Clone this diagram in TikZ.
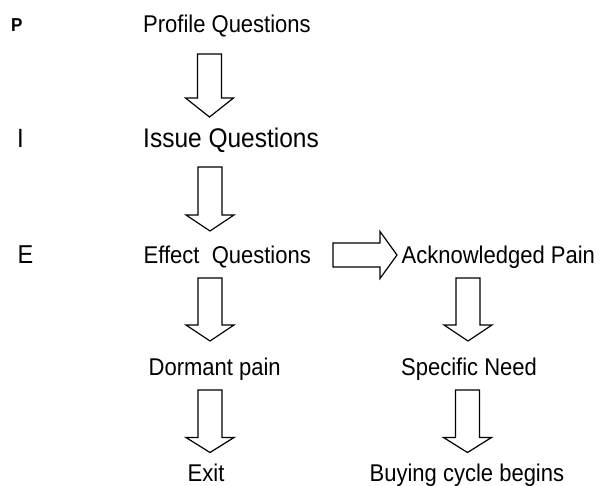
\documentclass[tikz,border=0pt]{standalone}
\usepackage{graphicx}
\usepackage{fontspec}
\setmainfont{Liberation Sans}
\usetikzlibrary{calc}
\newcommand\stretchtx[1]{\scalebox{1}[1.1]{#1}}
\begin{document}
\begin{tikzpicture}[x=1pt,y=-1pt,
  lbl/.style={anchor=base west, inner sep=0pt, font=\fontsize{22}{26}\selectfont},
  blockdown/.style={line width=1.2pt, line join=miter, to path={let \p1=(\tikztostart), \p2=(\tikztotarget) in
     (\x1-12pt,\y1) -- (\x1+12pt,\y1) -- (\x1+12pt,\y2+#1) -- (\x1+24pt,\y2+#1) -- (\x2,\y2)
     -- (\x1-24pt,\y2+#1) -- (\x1-12pt,\y2+#1) -- cycle}},
  blockdown/.default=16pt,
  blockright/.style={line width=1.2pt, line join=miter, to path={let \p1=(\tikztostart), \p2=(\tikztotarget) in
     (\x1,\y1+12pt) -- (\x1,\y1-12pt) -- (\x2-#1,\y1-12pt) -- (\x2-#1,\y1-23.5pt) -- (\x2,\y2)
     -- (\x2-#1,\y1+23.5pt) -- (\x2-#1,\y1+12pt) -- cycle}},
  blockright/.default=17pt]
\useasboundingbox (0,0) rectangle (601,485);

% left letters
\node[lbl, font=\bfseries\fontsize{17}{20}\selectfont] (P) at (11,31.5) {\stretchtx{P}};
\node[lbl, font=\fontsize{24}{28}\selectfont] (I) at (17,147) {\stretchtx{I}};
\node[lbl, font=\fontsize{23.5}{28}\selectfont] (E) at (17.5,263) {\stretchtx{E}};

% texts
\node[lbl] (prof) at (143,32) {\stretchtx{Profile Questions}};
\node[lbl, font=\fontsize{24.5}{28}\selectfont] (issue) at (143,147) {\stretchtx{Issue Questions}};
\node[lbl] (eff) at (143.5,263) {\stretchtx{Effect\ \ Questions}};
\node[lbl] (ack) at (401.5,263) {\stretchtx{Acknowledged Pain}};
\node[lbl] (dorm) at (148.5,375) {\stretchtx{Dormant pain}};
\node[lbl] (spec) at (401,375) {\stretchtx{Specific Need}};
\node[lbl] (exit) at (187.5,481) {\stretchtx{Exit}};
\node[lbl] (buy) at (369.5,481) {\stretchtx{Buying cycle begins}};

% arrow end points
\coordinate (a1s) at (209.5,54);  \coordinate (a1e) at (209.5,117);
\coordinate (a2s) at (210,167);   \coordinate (a2e) at (210,231);
\coordinate (a3s) at (210,278);   \coordinate (a3e) at (210,341);
\coordinate (a4s) at (468,278);   \coordinate (a4e) at (468,341);
\coordinate (a5s) at (210,390);   \coordinate (a5e) at (210,452.5);
\coordinate (a6s) at (467.5,390); \coordinate (a6e) at (467.5,452.5);
\coordinate (ars) at (333,255);   \coordinate (are) at (397,255);

\draw[blockdown=19pt] (a1s) to (a1e);
\draw[blockdown] (a2s) to (a2e);
\draw[blockdown] (a3s) to (a3e);
\draw[blockdown] (a4s) to (a4e);
\draw[blockdown=15pt] (a5s) to (a5e);
\draw[blockdown=15pt] (a6s) to (a6e);
\draw[blockright] (ars) to (are);
\end{tikzpicture}
\end{document}
